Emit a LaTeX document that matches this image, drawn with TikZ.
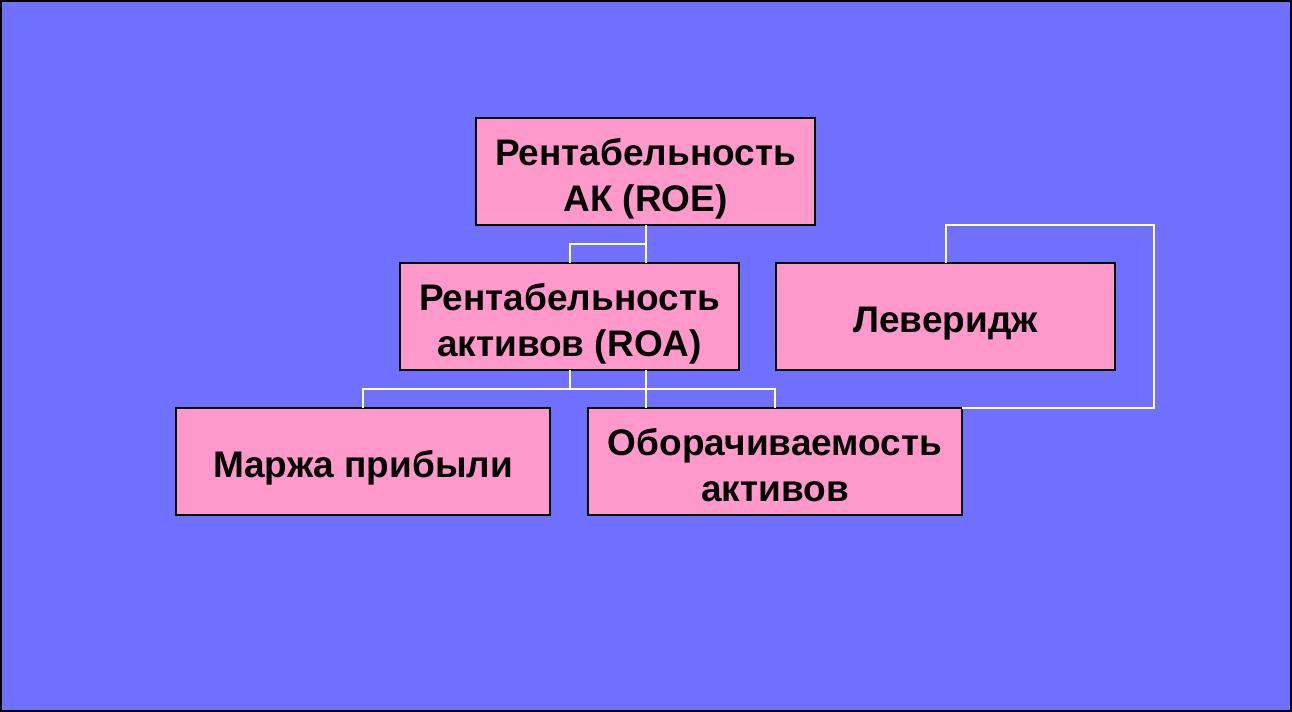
\documentclass[tikz,border=0pt]{standalone}
\usepackage{fontspec}
\setmainfont{Liberation Sans}
\usetikzlibrary{positioning}
\definecolor{slide}{RGB}{112,112,255}
\definecolor{boxpink}{RGB}{255,153,204}

\begin{document}
\begin{tikzpicture}[x=0.5pt,y=-0.5pt,node distance=19pt,
                    font=\bfseries\fontsize{18.5}{23}\selectfont]
  \tikzstyle{block}=[rectangle,draw=black,line width=1.2pt,fill=boxpink,text=black,
                     align=center,minimum width=169.5pt,minimum height=53.5pt,
                     inner sep=0pt,outer sep=0pt]
  \tikzstyle{wide}=[block,minimum width=187pt]
  \tikzstyle{single}=[text height=16pt,text depth=0pt]
  \tikzstyle{double}=[text height=40pt,text depth=0pt]
  \tikzstyle{link}=[draw=white,line width=1pt]

  \fill[slide,draw=black,line width=1pt] (1,1) rectangle (1291,711);
  \useasboundingbox (0,0) rectangle (1292,712);

  \node[block,double] (0) at (645.5,171.5)     {Рентабельность\\АК (ROE)};
  \node[block,double] (1) [below=19pt of 0,xshift=-38pt] {Рентабельность\\активов (ROA)};
  \node[block,single] (2) [right=18.5pt of 1]  {Леверидж};
  \node[wide,single] (3) [below=19pt of 1,xshift=-103.25pt] {Маржа прибыли};
  \node[wide,double] (4) [right=19pt of 3]     {Оборачиваемость\\активов};
  \coordinate [right=96pt of 4.north east] (5);

  \path[link] (0.south) -- (0.south |- 1.north)
    (0.south) ++(0,19) -| (1.north)
    (1.south) -- ++(0,19)
    (3.north) -- ++(0,-19) -| (4.north)
    (0.south |- 1.south) -- (0.south |- 4.north)
    (2.north) |- (5 |- 0.south) |- (4.north east);

\end{tikzpicture}
\end{document}
